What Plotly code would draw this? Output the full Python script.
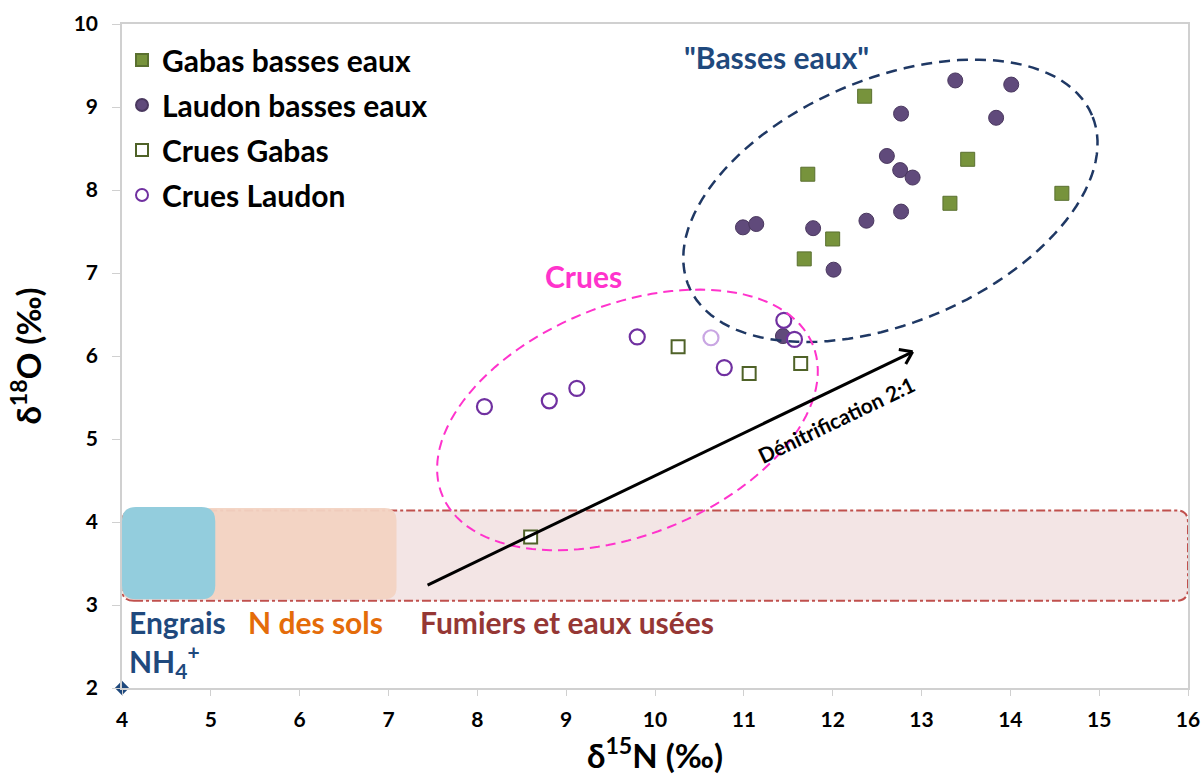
import numpy as np
import plotly.graph_objects as go

# ---------------- data ----------------
gabas_be_n = [12.36, 11.72, 13.52, 14.58, 13.32, 12.00, 11.68]
gabas_be_o = [9.13, 8.19, 8.37, 7.96, 7.84, 7.41, 7.17]

laudon_be_n = [13.38, 14.01, 12.77, 13.84, 12.61, 12.76, 12.90, 10.99, 11.14, 11.78, 12.38, 12.77, 12.01, 11.44]
laudon_be_o = [9.32, 9.27, 8.92, 8.87, 8.41, 8.24, 8.15, 7.55, 7.59, 7.54, 7.63, 7.74, 7.04, 6.24]

crues_gabas_n = [10.26, 11.06, 11.64, 8.60]
crues_gabas_o = [6.11, 5.79, 5.91, 3.82]

crues_laudon_n = [8.08, 8.81, 9.12, 9.80, 10.63, 10.78, 11.45, 11.57]
crues_laudon_o = [5.39, 5.46, 5.61, 6.23, 6.22, 5.86, 6.43, 6.20]

origin_n = [4]
origin_o = [2]

x_ticks = list(range(4, 17))
y_ticks = list(range(2, 11))

# source boxes (delta15N extent, delta18O extent)
fumiers_n = [4.0, 16.0]
fumiers_o = [3.05, 4.14]
sols_n = [4.0, 7.09]
sols_o = [3.07, 4.17]
engrais_n = [4.0, 5.05]
engrais_o = [3.07, 4.18]

# denitrification arrow
arrow_n = [7.44, 12.90]
arrow_o = [3.24, 6.05]

# ---------------- layout geometry ----------------
W, H = 1204, 778
ML, MR, MT, MB = 122, 16, 24, 90
XR = [4, 16]
YR = [2, 10]
PX_X = (W - ML - MR) / (XR[1] - XR[0])
PX_Y = (H - MT - MB) / (YR[1] - YR[0])

FONT = "Lato"
LBL = 30


def ellipse_path(cx, cy, a_px, b_px, theta_deg, n=120):
    th = np.radians(theta_deg)
    t = np.linspace(0, 2 * np.pi, n)
    dx = a_px * np.cos(t) * np.cos(th) - b_px * np.sin(t) * np.sin(th)
    dy = a_px * np.cos(t) * np.sin(th) + b_px * np.sin(t) * np.cos(th)
    xs = cx + dx / PX_X
    ys = cy + dy / PX_Y
    p = f"M {xs[0]:.4f},{ys[0]:.4f} " + " ".join(f"L {x:.4f},{y:.4f}" for x, y in zip(xs[1:], ys[1:])) + " Z"
    return p


def rrect_path(xr, yr, r_px):
    x0, x1 = xr
    y0, y1 = yr
    rx = r_px / PX_X
    ry = r_px / PX_Y
    return (f"M {x0+rx},{y0} L {x1-rx},{y0} Q {x1},{y0} {x1},{y0+ry} "
            f"L {x1},{y1-ry} Q {x1},{y1} {x1-rx},{y1} "
            f"L {x0+rx},{y1} Q {x0},{y1} {x0},{y1-ry} "
            f"L {x0},{y0+ry} Q {x0},{y0} {x0+rx},{y0} Z")


fig = go.Figure()

fig.add_trace(go.Scatter(
    x=origin_n, y=origin_o, mode="markers", showlegend=False,
    marker=dict(symbol="diamond", size=11, color="#1f497d"), cliponaxis=False))

fig.add_trace(go.Scatter(
    x=gabas_be_n, y=gabas_be_o, mode="markers", name="Gabas basses eaux",
    legendgroup="a",
    marker=dict(symbol="square", size=14, color="#77933c", line=dict(color="#5a7030", width=1))))

fig.add_trace(go.Scatter(
    x=laudon_be_n, y=laudon_be_o, mode="markers", name="Laudon basses eaux",
    legendgroup="b",
    marker=dict(symbol="circle", size=15, color="#604a7b", line=dict(color="#4a385f", width=1))))

fig.add_trace(go.Scatter(
    x=crues_gabas_n, y=crues_gabas_o, mode="markers", name="Crues Gabas",
    legendgroup="c",
    marker=dict(symbol="square", size=13, color="white", line=dict(color="#4f6228", width=2))))

cl_line = ["#c9a6e3" if i == 4 else "#7030a0" for i in range(len(crues_laudon_n))]
fig.add_trace(go.Scatter(
    x=crues_laudon_n, y=crues_laudon_o, mode="markers", name="Crues Laudon",
    legendgroup="d",
    marker=dict(symbol="circle", size=15, color="white", line=dict(color=cl_line, width=2.2))))

shapes = []
# source boxes
shapes.append(dict(type="path", path=rrect_path(fumiers_n, fumiers_o, 12), xref="x", yref="y",
                   fillcolor="#f3e5e5", line=dict(color="#c0504d", width=2, dash="dashdot"), layer="below"))
shapes.append(dict(type="path", path=rrect_path(sols_n, sols_o, 12), xref="x", yref="y",
                   fillcolor="rgba(242,211,194,0.95)", line=dict(width=0), layer="below"))
shapes.append(dict(type="path", path=rrect_path(engrais_n, engrais_o, 14), xref="x", yref="y",
                   fillcolor="#93cddd", line=dict(width=0), layer="below"))

# ellipses
shapes.append(dict(type="path", path=ellipse_path(12.65, 7.87, 219, 122, 23), xref="x", yref="y",
                   line=dict(color="#1f3864", width=2.5, dash="11px,7px")))
shapes.append(dict(type="path", path=ellipse_path(9.69, 5.23, 200, 115, 22), xref="x", yref="y",
                   line=dict(color="#ff33cc", width=2, dash="10px,6px")))

# arrow line + chevron head
shapes.append(dict(type="line", x0=arrow_n[0], y0=arrow_o[0], x1=arrow_n[1], y1=arrow_o[1],
                   xref="x", yref="y", line=dict(color="black", width=3)))
ang = np.arctan2((arrow_o[1] - arrow_o[0]) * PX_Y, (arrow_n[1] - arrow_n[0]) * PX_X)
for s in (+1, -1):
    a2 = ang + np.pi + s * np.radians(35)
    ex = arrow_n[1] + 14 * np.cos(a2) / PX_X
    ey = arrow_o[1] + 14 * np.sin(a2) / PX_Y
    shapes.append(dict(type="line", x0=arrow_n[1], y0=arrow_o[1], x1=ex, y1=ey,
                       xref="x", yref="y", line=dict(color="black", width=3)))

ann = []
ann.append(dict(x=11.37, y=9.60, text='"Basses eaux"', showarrow=False,
                font=dict(family=FONT, size=LBL, color="#1f497d", weight="bold")))
ann.append(dict(x=9.19, y=6.96, text="Crues", showarrow=False,
                font=dict(family=FONT, size=LBL, color="#ff33cc", weight="bold")))
ann.append(dict(x=4.06, y=2.80, text="Engrais", showarrow=False, xanchor="left",
                font=dict(family=FONT, size=LBL, color="#1f497d", weight="bold")))
ann.append(dict(x=4.06, y=2.33, text="NH<sub>4</sub><sup>+</sup>", showarrow=False, xanchor="left",
                font=dict(family=FONT, size=LBL, color="#1f497d", weight="bold")))
ann.append(dict(x=5.40, y=2.80, text="N des sols", showarrow=False, xanchor="left",
                font=dict(family=FONT, size=LBL, color="#e46c0a", weight="bold")))
ann.append(dict(x=7.33, y=2.80, text="Fumiers et eaux usées", showarrow=False, xanchor="left",
                font=dict(family=FONT, size=LBL, color="#953735", weight="bold")))
ann.append(dict(x=12.04, y=5.23, text="Dénitrification 2:1", showarrow=False,
                textangle=-np.degrees(ang),
                font=dict(family=FONT, size=21, color="black", weight="bold")))

fig.update_layout(
    width=W, height=H,
    margin=dict(l=ML, r=MR, t=MT, b=MB, autoexpand=False),
    paper_bgcolor="white", plot_bgcolor="white",
    font=dict(family=FONT, color="black"),
    shapes=shapes, annotations=ann,
    legend=dict(x=0, y=0.985, xanchor="left", yanchor="top", bgcolor="rgba(0,0,0,0)",
                font=dict(family=FONT, size=30, color="black", weight="bold"),
                tracegroupgap=3, itemsizing="constant"),
    xaxis=dict(range=XR, tickvals=x_ticks, showgrid=False, zeroline=False, automargin=False,
               showline=True, linecolor="#d0d0d0", linewidth=1.5, mirror=True,
               ticks="outside", ticklen=6, tickcolor="#d0d0d0",
               tickfont=dict(family=FONT, size=21, color="black", weight="bold"),
               ticklabelstandoff=6,
               title=dict(text="δ<sup>15</sup>N (‰)", standoff=15,
                          font=dict(family=FONT, size=33, color="black", weight="bold"))),
    yaxis=dict(range=YR, tickvals=y_ticks, showgrid=False, zeroline=False, automargin=False,
               showline=True, linecolor="#d0d0d0", linewidth=1.5, mirror=True,
               ticks="outside", ticklen=8, tickcolor="#d0d0d0",
               tickfont=dict(family=FONT, size=21, color="black", weight="bold"),
               ticklabelstandoff=10,
               title=dict(text="δ<sup>18</sup>O (‰)", standoff=22,
                          font=dict(family=FONT, size=33, color="black", weight="bold"))),
)

fig.write_html("out.html", config={"displayModeBar": False},
               post_script="document.body.style.margin='0';")
